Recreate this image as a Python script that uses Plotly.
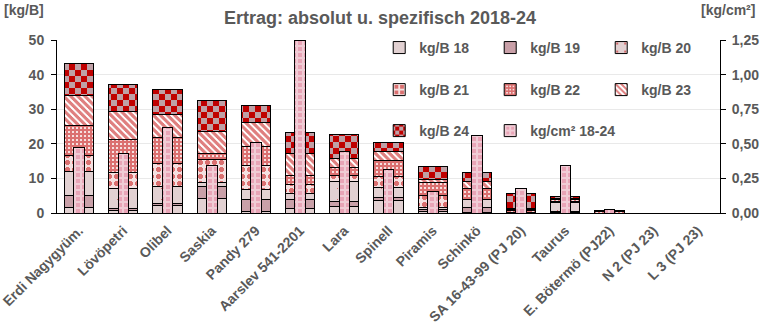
import plotly.graph_objects as go

# Sorten
categories = ["Erdi Nagygyüm.", "Lövöpetri", "Olibel", "Saskia", "Pandy 279",
              "Aarslev 541-2201", "Lara", "Spinell", "Piramis", "Schinkö",
              "SA 16-43-99 (PJ 20)", "Taurus", "E. Bötermö (PJ22)", "N 2 (PJ 23)", "L 3 (PJ 23)"]

# Ertrag je Baum und Jahr [kg/B]
kg_b_18 = [1.45, 0.7, 2.2, 4.3, 0.3, 1.35, 2.0, 3.5, 0.5, 0.1, None, 0.1, None, None, None]
kg_b_19 = [3.55, 0.6, 0.6, 3.5, 3.7, 2.6, 1.4, 1.0, 0.5, 1.6, None, 0.4, None, None, None]
kg_b_20 = [7.1, 5.7, 5.0, 0.9, 2.8, 1.55, 5.7, 2.9, 0.5, 2.1, 0.2, 2.6, None, None, None]
kg_b_21 = [4.6, 4.8, 6.4, 6.9, 6.8, 2.6, 1.6, 3.1, 3.5, 0.2, 0.4, 0.1, None, None, None]
kg_b_22 = [8.6, 9.3, 7.5, 1.7, 5.6, 2.6, 2.5, 4.8, 3.7, 3.0, 0.3, 0.6, 0.3, None, None]
kg_b_23 = [8.7, 8.1, 6.9, 6.4, 6.9, 6.5, 2.6, 2.4, 1.1, 2.2, 0.5, 0.4, 0.2, None, None]
kg_b_24 = [9.3, 7.8, 7.2, 8.9, 5.0, 6.1, 6.9, 2.7, 3.5, 2.4, 4.2, 0.6, 0.2, None, None]

# spezifischer Ertrag 2018-24 [kg/cm²]
kg_cm2 = [0.475, 0.433, 0.62, 0.342, 0.51, 1.25, 0.443, 0.315, 0.156, 0.558,
          0.18, 0.342, 0.025, None, None]

series_names = ["kg/B 18", "kg/B 19", "kg/B 20", "kg/B 21", "kg/B 22", "kg/B 23", "kg/B 24"]
series_values = [kg_b_18, kg_b_19, kg_b_20, kg_b_21, kg_b_22, kg_b_23, kg_b_24]

RED = "#C00000"
CHECKER_KEY = "#C00001"   # marker colour that the checkerboard script looks for
GREY_TXT = "#595959"

styles = [
    dict(color="#E2D1D2"),
    dict(color="#C9A0A8"),
    dict(color="#E2D1D2", pattern=dict(shape=".", fgcolor=RED, bgcolor="#E2D1D2",
                                        size=11, solidity=0.025)),
    dict(color="#F3DCDC", pattern=dict(shape=".", fgcolor=RED, bgcolor="#F5E0E0",
                                        size=7, solidity=0.4)),
    dict(color="#F4DADA", pattern=dict(shape="+", fgcolor=RED, bgcolor="#F6E0E0",
                                        size=4, solidity=0.45)),
    dict(color="#FFFFFF", pattern=dict(shape="\\", fgcolor=RED, bgcolor="#FFFFFF",
                                        size=5, solidity=0.6)),
    dict(color="#BFA0A6", pattern=dict(shape="+", fgcolor=CHECKER_KEY, bgcolor="#BFA0A6",
                                        size=12, solidity=0.3)),
]
legend_of = ["legend", "legend", "legend", "legend2", "legend2", "legend2", "legend3"]

fig = go.Figure()

for name, vals, st, lg in zip(series_names, series_values, styles, legend_of):
    fig.add_trace(go.Bar(
        x=categories, y=vals, name=name, width=0.66,
        marker=dict(line=dict(color="black", width=1), **st),
        legend=lg, yaxis="y",
    ))

fig.add_trace(go.Bar(
    x=categories, y=kg_cm2, name="kg/cm² 18-24", width=0.24,
    marker=dict(color="#EEC2CD", line=dict(color="black", width=1),
                pattern=dict(shape=".", fgcolor="#E07C97", bgcolor="#F0CCD5",
                             size=6, solidity=0.45)),
    legend="legend3", legendwidth=120, yaxis="y2",
))

axis_font = dict(family="Arial", size=14, color=GREY_TXT, weight="bold")
legend_common = dict(orientation="h", x=0.486, xanchor="left", yanchor="middle",
                     bgcolor="rgba(0,0,0,0)", entrywidth=66, traceorder="normal",
                     font=dict(family="Arial", size=14, color=GREY_TXT, weight="bold"),
                     itemclick=False, itemdoubleclick=False)

fig.update_layout(
    width=760, height=325,
    margin=dict(l=57, r=40, t=40, b=112),
    barmode="stack",
    bargap=0.34,
    plot_bgcolor="white", paper_bgcolor="white",
    separators=",.",
    showlegend=True,
    title=dict(text="Ertrag: absolut u. spezifisch 2018-24", x=0.5, xanchor="center",
               y=0.945, yanchor="middle",
               font=dict(family="Arial", size=18, color=GREY_TXT, weight="bold")),
    xaxis=dict(type="category", tickangle=-45, tickfont=axis_font, automargin=False,
               ticklabelstandoff=3,
               showline=True, linecolor="black", linewidth=1, ticks="",
               showgrid=False, range=[-0.5, 14.5]),
    yaxis=dict(range=[0, 50], dtick=10, tickfont=axis_font, showline=True,
               automargin=False, ticklabelstandoff=4,
               linecolor="black", linewidth=1, ticks="outside", ticklen=5,
               tickcolor="black", showgrid=True, gridcolor="#E9E9E9", gridwidth=1,
               zeroline=False),
    yaxis2=dict(range=[0, 1.25], dtick=0.25, tickformat=".2f", overlaying="y",
                side="right", tickfont=axis_font, showline=True, linecolor="black",
                automargin=False, ticklabelstandoff=3,
                linewidth=1, ticks="outside", ticklen=5, tickcolor="black",
                showgrid=False, zeroline=False),
    legend=dict(y=0.954, **legend_common),
    legend2=dict(y=0.711, **legend_common),
    legend3=dict(y=0.474, **legend_common),
    annotations=[
        dict(text="[kg/B]", xref="paper", yref="paper", x=0, y=1, xshift=-55, yshift=30,
             xanchor="left", yanchor="middle", showarrow=False,
             font=dict(family="Arial", size=14, color=GREY_TXT, weight="bold")),
        dict(text="[kg/cm²]", xref="paper", yref="paper", x=1, y=1, xshift=37, yshift=30,
             xanchor="right", yanchor="middle", showarrow=False,
             font=dict(family="Arial", size=14, color=GREY_TXT, weight="bold")),
    ],
)

# Pixel-crisp fills, and the "+" pattern tagged with CHECKER_KEY becomes
# a red/grey checkerboard
checker_js = """
(function(){
  function fix(){
    document.querySelectorAll('pattern *').forEach(function(el){
      el.setAttribute('shape-rendering', 'crispEdges');
    });
    document.querySelectorAll('pattern path').forEach(function(el){
      var s = (el.getAttribute('stroke') || el.style.stroke || '').replace(/\\s/g,'').toLowerCase();
      if (s === 'rgb(192,0,1)' || s === '#c00001') {
        var pat = el.parentNode;
        var w = parseFloat(pat.getAttribute('width'));
        var h = w / 2;
        el.setAttribute('d', 'M0,0H'+h+'V'+h+'H0Z M'+h+','+h+'H'+w+'V'+w+'H'+h+'Z');
        el.setAttribute('stroke', 'none');
        el.style.stroke = 'none';
        el.setAttribute('fill', 'rgb(192,0,0)');
        el.style.fill = 'rgb(192,0,0)';
        el.setAttribute('opacity', '1');
      }
    });
  }
  fix();
  var gd = document.getElementById('{plot_id}');
  if (gd && gd.on) { gd.on('plotly_afterplot', fix); }
})();
"""

fig.write_html("out.html", post_script=checker_js)
